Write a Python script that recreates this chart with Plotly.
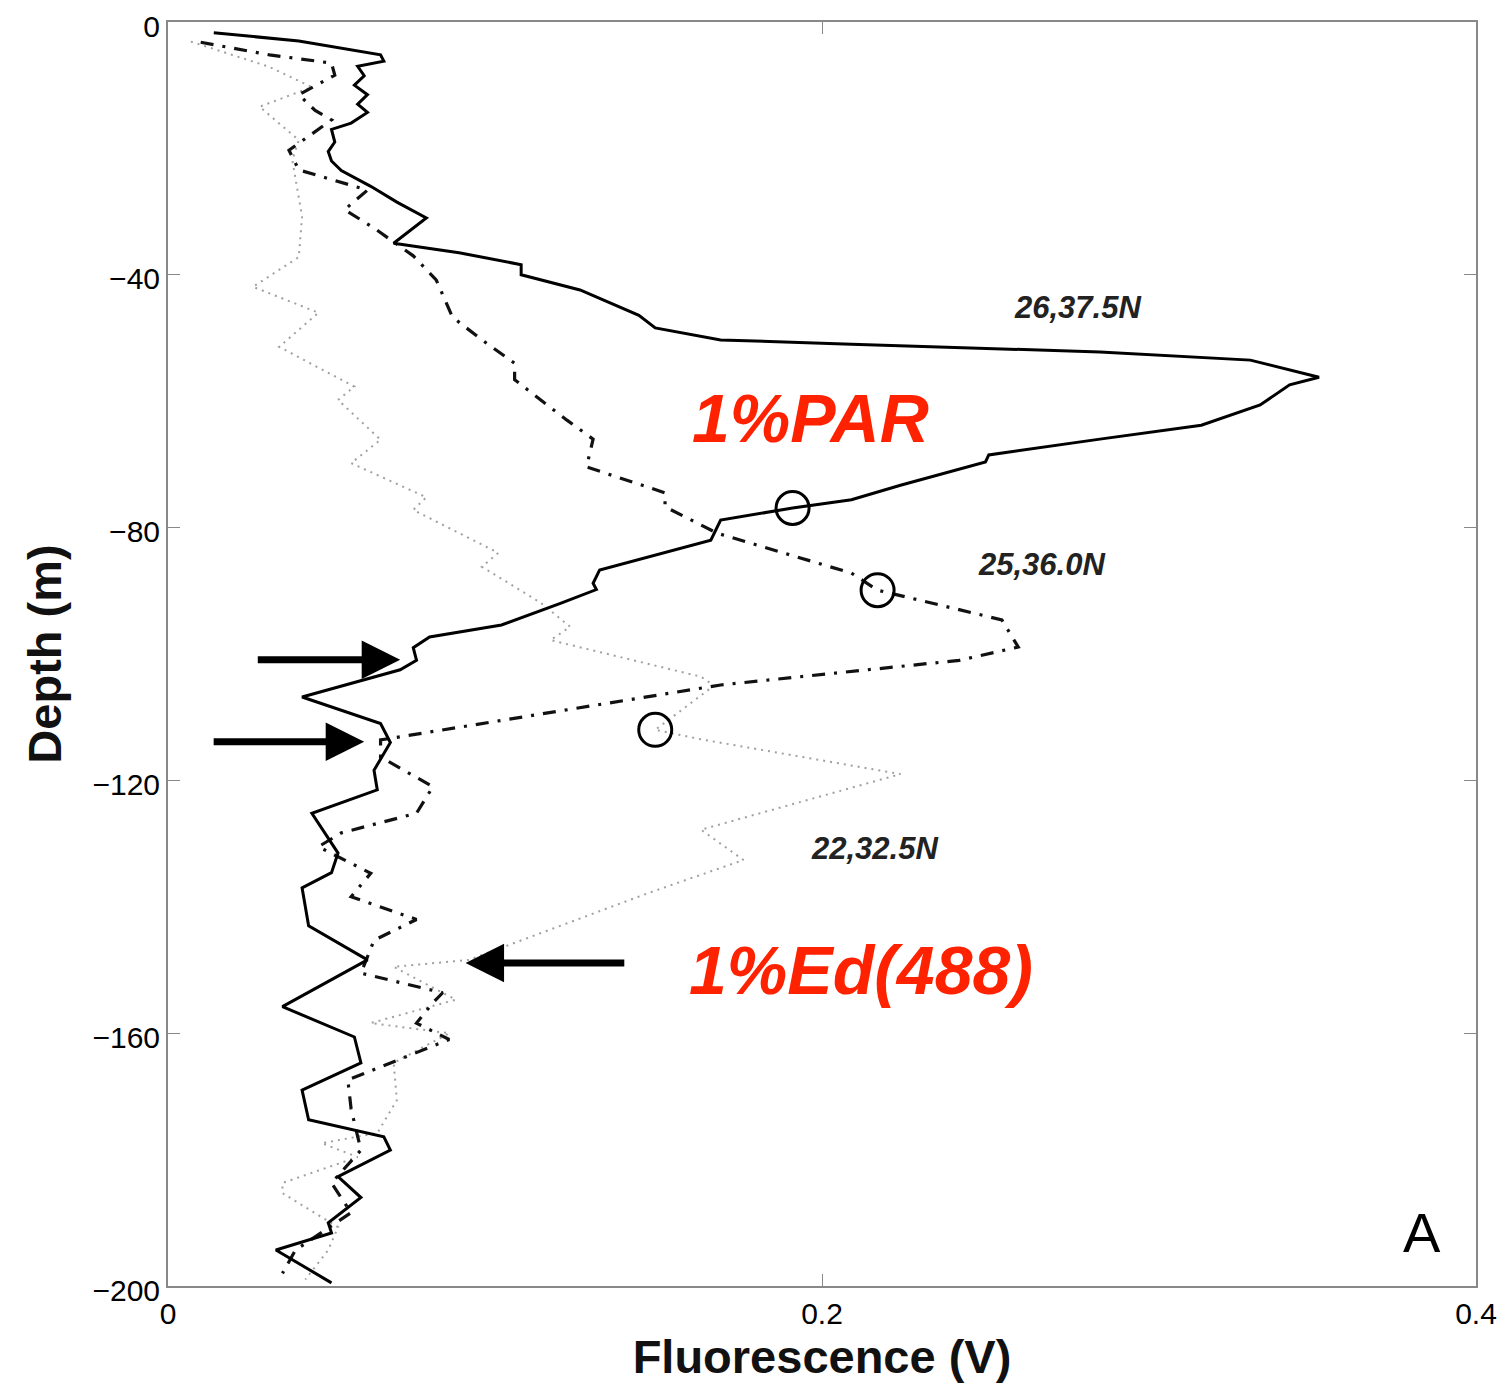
import plotly.graph_objects as go

# ---- data (fluorescence V, depth m) ----
st1_label = "26,37.5N"
st1_fluor = [0.014, 0.040, 0.065, 0.066, 0.058, 0.060, 0.057, 0.061, 0.058, 0.061, 0.056, 0.050,
             0.051, 0.049, 0.050, 0.053, 0.062, 0.070, 0.079, 0.069, 0.089, 0.108, 0.108, 0.126,
             0.144, 0.149, 0.169, 0.209, 0.285, 0.331, 0.352, 0.343, 0.334, 0.316, 0.285, 0.251,
             0.250, 0.224, 0.209, 0.191, 0.169, 0.166, 0.132, 0.130, 0.131, 0.125, 0.120, 0.102,
             0.080, 0.075, 0.076, 0.071, 0.041, 0.065, 0.068, 0.063, 0.064, 0.044, 0.052, 0.050,
             0.041, 0.043, 0.061, 0.035, 0.057, 0.059, 0.041, 0.043, 0.066, 0.068, 0.052, 0.059,
             0.049, 0.050, 0.033, 0.050]
st1_depth = [-1.7, -3.0, -5.2, -6.2, -7.0, -8.5, -10.0, -11.5, -13.0, -14.3, -16.0, -17.0,
             -19.0, -20.5, -22.0, -23.5, -26.0, -28.5, -31.0, -35.0, -36.5, -38.4, -40.0, -42.4,
             -46.4, -48.4, -50.3, -51.0, -52.2, -53.5, -56.2, -57.4, -60.6, -63.8, -66.0, -68.5,
             -69.6, -73.3, -75.6, -76.9, -78.8, -82.0, -86.7, -88.8, -89.8, -91.0, -92.0, -95.4,
             -97.3, -99.0, -101.0, -102.5, -106.8, -111.0, -114.0, -118.4, -121.5, -125.2, -131.5, -134.6,
             -137.0, -143.0, -148.4, -155.8, -160.6, -164.7, -169.0, -173.7, -176.4, -178.5, -182.7, -186.0,
             -190.0, -191.6, -194.3, -199.5]

st2_label = "25,36.0N"
st2_fluor = [0.010, 0.031, 0.050, 0.051, 0.040, 0.045, 0.050, 0.037, 0.040, 0.061, 0.054, 0.063,
             0.075, 0.082, 0.087, 0.096, 0.106, 0.106, 0.122, 0.130, 0.128, 0.152, 0.152, 0.168,
             0.209, 0.217, 0.255, 0.260, 0.242, 0.169, 0.065, 0.065, 0.081, 0.076, 0.053, 0.046,
             0.062, 0.056, 0.076, 0.063, 0.059, 0.084, 0.081, 0.076, 0.086, 0.055, 0.056, 0.059,
             0.050, 0.056, 0.039, 0.035]
st2_depth = [-3.2, -5.2, -6.5, -8.4, -11.5, -14.0, -15.5, -20.3, -23.4, -26.6, -29.7, -32.6,
             -37.0, -40.8, -46.7, -50.3, -54.0, -56.6, -63.0, -66.0, -70.4, -74.5, -76.7, -80.9,
             -87.2, -89.9, -94.6, -98.9, -101.0, -104.9, -113.6, -116.3, -121.0, -125.2, -128.3, -130.5,
             -134.7, -138.4, -142.0, -145.3, -150.5, -153.6, -155.2, -158.4, -161.0, -167.4, -172.0, -178.5,
             -183.7, -188.4, -194.3, -198.0]

st3_label = "22,32.5N"
st3_fluor = [0.007, 0.031, 0.044, 0.028, 0.040, 0.038, 0.041, 0.040, 0.026, 0.046, 0.034, 0.057,
             0.052, 0.065, 0.056, 0.079, 0.075, 0.101, 0.096, 0.114, 0.123, 0.117, 0.163, 0.167,
             0.149, 0.163, 0.224, 0.163, 0.176, 0.147, 0.092, 0.069, 0.088, 0.062, 0.086, 0.069,
             0.070, 0.064, 0.047, 0.058, 0.035, 0.035, 0.052, 0.049, 0.042]
st3_depth = [-3.1, -7.1, -10.3, -13.4, -18.7, -21.8, -30.8, -37.2, -41.9, -46.0, -51.4, -57.7,
             -59.8, -66.1, -69.8, -75.2, -77.2, -84.0, -86.2, -91.9, -95.7, -97.8, -103.6, -105.0,
             -112.0, -113.5, -119.0, -127.8, -132.6, -137.8, -148.4, -149.5, -154.7, -158.4, -160.0, -164.7,
             -170.6, -175.8, -177.4, -179.6, -183.7, -185.3, -190.7, -194.3, -199.0]

# 1% PAR depths (open circles)
par_fluor = [0.191, 0.217, 0.149]
par_depth = [-76.9, -89.9, -112.0]

# arrows: tip / tail fluorescence, depth (1% Ed(488))
arrow_tip_fluor = [0.071, 0.060, 0.091]
arrow_tail_fluor = [0.027, 0.0135, 0.140]
arrow_depth = [-100.9, -113.9, -148.9]

x_ticks = [0, 0.2, 0.4]
x_ticktext = ["0", "0.2", "0.4"]
y_ticks = [0, -40, -80, -120, -160, -200]
y_ticktext = ["0", "\u221240", "\u221280", "\u2212120", "\u2212160", "\u2212200"]

FONT = "Liberation Sans, Arial, Helvetica, sans-serif"

fig = go.Figure()
fig.add_trace(go.Scatter(x=st3_fluor, y=st3_depth, mode="lines", name=st3_label,
                         line=dict(color="#a0a0a0", width=2, dash="2px,5px")))
fig.add_trace(go.Scatter(x=st2_fluor, y=st2_depth, mode="lines", name=st2_label,
                         line=dict(color="#111111", width=3.2, dash="13px,9px,3px,9px")))
fig.add_trace(go.Scatter(x=st1_fluor, y=st1_depth, mode="lines", name=st1_label,
                         line=dict(color="#000000", width=3)))
fig.add_trace(go.Scatter(x=par_fluor, y=par_depth, mode="markers", name="1%PAR",
                         marker=dict(symbol="circle-open", size=33, color="#000000",
                                     line=dict(width=3, color="#000000"))))

for tip, tail, d in zip(arrow_tip_fluor, arrow_tail_fluor, arrow_depth):
    fig.add_annotation(x=tip, y=d, ax=tail, ay=d, xref="x", yref="y", axref="x", ayref="y",
                       text="", showarrow=True, arrowhead=2, arrowsize=1.1, arrowwidth=7,
                       arrowcolor="#000000")

label_style = dict(family=FONT, size=31, color="#222222", weight="bold", style="italic")
fig.add_annotation(x=0.278, y=-45.1, text=st1_label, showarrow=False, font=label_style)
fig.add_annotation(x=0.267, y=-85.9, text=st2_label, showarrow=False, font=label_style)
fig.add_annotation(x=0.216, y=-130.7, text=st3_label, showarrow=False, font=label_style)

red_style = dict(family=FONT, size=68, color="#ff2200", weight="bold", style="italic")
fig.add_annotation(x=0.1966, y=-62.7, text="1%PAR", showarrow=False, font=red_style)
fig.add_annotation(x=0.212, y=-150.0, text="1%Ed(488)", showarrow=False, font=red_style)

fig.add_annotation(x=0.3835, y=-191.5, text="A", showarrow=False,
                   font=dict(family=FONT, size=56, color="#000000"))

axis_common = dict(showline=True, linecolor="#888888", linewidth=2, mirror="ticks",
                   ticks="inside", ticklen=12, tickcolor="#888888", tickwidth=1,
                   showgrid=False, zeroline=False, automargin=False,
                   ticklabeloverflow="allow",
                   tickfont=dict(family=FONT, size=30, color="#000000"))

# the page body adds an 8px offset, so the figure is drawn 8px smaller with
# margins reduced on the top/left to land the plot frame where the reference has it
fig.update_layout(
    width=1497, height=1380,
    margin=dict(l=160, r=29, t=14, b=102),
    paper_bgcolor="white", plot_bgcolor="white",
    showlegend=False,
    xaxis=dict(range=[0, 0.4], tickvals=x_ticks, ticktext=x_ticktext,
               title=dict(text="Fluorescence (V)", standoff=10,
                          font=dict(family=FONT, size=47, color="#111111", weight="bold")),
               **axis_common),
    yaxis=dict(range=[-200, 0], tickvals=y_ticks, ticktext=y_ticktext, ticklabelshift=4,
               title=dict(text="Depth (m)", standoff=16,
                          font=dict(family=FONT, size=47, color="#111111", weight="bold")),
               **axis_common),
)

fig.write_html("out.html")
